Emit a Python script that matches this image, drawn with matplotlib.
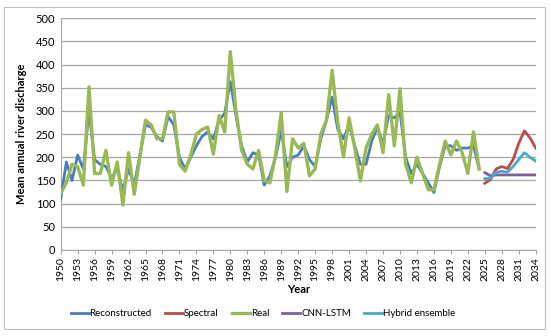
import matplotlib
matplotlib.use("Agg")
import matplotlib.pyplot as plt
from matplotlib.patches import Rectangle

years_hist = list(range(1950, 2025))
reconstructed = [110, 190, 150, 205, 175, 300, 195, 185, 180, 155,
                 175, 128, 175, 140, 205, 270, 265, 245, 235, 288,
                 270, 200, 175, 200, 225, 245, 255, 240, 280, 295,
                 363, 290, 225, 190, 210, 205, 140, 160, 200, 258,
                 180, 200, 205, 225, 195, 180, 240, 280, 330, 260,
                 240, 270, 225, 185, 185, 235, 265, 230, 290, 285,
                 298, 200, 165, 185, 165, 145, 124, 180, 225, 225,
                 215, 220, 220, 225, 175]
real = [122, 145, 185, 180, 140, 352, 165, 165, 215, 140,
        190, 97, 210, 120, 200, 280, 270, 240, 240, 298,
        298, 185, 170, 205, 250, 260, 265, 207, 290, 255,
        428, 300, 215, 185, 175, 215, 150, 145, 205, 296,
        126, 240, 220, 230, 160, 175, 250, 280, 388, 275,
        201, 285, 220, 149, 220, 250, 270, 210, 335, 225,
        348, 185, 145, 200, 165, 130, 130, 185, 235, 205,
        235, 210, 165, 255, 175]

years_fut = list(range(2025, 2035))
spectral = [144, 152, 175, 180, 176, 195, 230, 257, 242, 220]
cnn_lstm = [167, 160, 162, 162, 162, 162, 162, 162, 162, 162]
hybrid = [154, 155, 168, 170, 168, 180, 195, 210, 200, 192]

xticks = list(range(1950, 2035, 3))
yticks = list(range(0, 501, 50))

plt.rcParams['font.family'] = ['Lato', 'DejaVu Sans']

fig = plt.figure(figsize=(5.5, 3.36), dpi=100)
fig.patches.append(Rectangle((4/550, 1-329/336), 541/550, 322/336,
                             transform=fig.transFigure, fill=False,
                             edgecolor='#BFBFBF', linewidth=0.8))
ax = fig.add_axes([60.7/550, 1-250/336, 475/550, (250-18.3)/336])

ax.plot(years_hist, reconstructed, color='#4A7EBB', lw=2.0, label='Reconstructed', zorder=3)
ax.plot(years_fut, spectral, color='#BE4B48', lw=2.0, label='Spectral', zorder=3)
ax.plot(years_hist, real, color='#98B954', lw=2.4, label='Real', zorder=4)
ax.plot(years_fut, cnn_lstm, color='#7D60A0', lw=2.0, label='CNN-LSTM', zorder=3)
ax.plot(years_fut, hybrid, color='#46AAC5', lw=2.0, label='Hybrid ensemble', zorder=3)

ax.set_xlim(1950, 2034)
ax.set_ylim(0, 500)
ax.set_xticks(xticks)
ax.set_xticklabels([str(x) for x in xticks], rotation=90, fontsize=7.5)
ax.set_yticks(yticks)
ax.set_yticklabels([str(y) for y in yticks], fontsize=8)
ax.yaxis.grid(True, color='#A6A6A6', lw=0.9)
ax.set_axisbelow(True)
for s in ['top', 'right']:
    ax.spines[s].set_visible(False)
ax.spines['left'].set_color('#A6A6A6')
ax.spines['bottom'].set_color('#A6A6A6')
ax.tick_params(axis='y', length=0, pad=4)
ax.tick_params(axis='x', length=3, color='#A6A6A6', pad=2)

ax.set_xlabel('Year', fontsize=8, fontweight='bold', labelpad=2)
ax.set_ylabel('Mean annual river discharge', fontsize=8, fontweight='bold', labelpad=6)

fig.legend(loc='center', bbox_to_anchor=(263/550, 1-314/336), ncol=5,
           frameon=False, fontsize=7, handlelength=1.85, columnspacing=1.35,
           handletextpad=0.1)

fig.savefig('out.png', dpi=100)
